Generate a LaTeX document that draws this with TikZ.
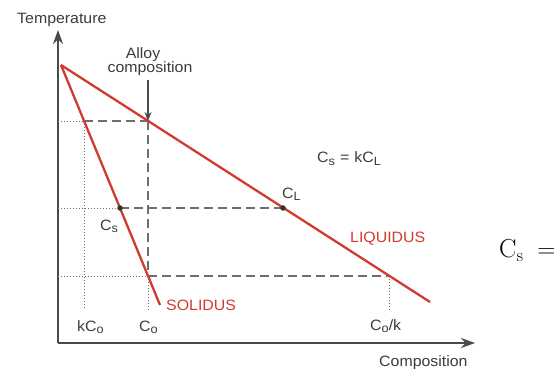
\documentclass[tikz,border=0pt]{standalone}
\usepackage{fontspec}
\newfontfamily\labfont{Liberation Sans}[FakeStretch=1.06]
\usepackage{tikz}
\usetikzlibrary{arrows.meta}
\definecolor{liqred}{HTML}{D23A2F}
\definecolor{axisgrey}{HTML}{4A4A4A}
\definecolor{guide}{HTML}{6E6E6E}
\definecolor{txt}{HTML}{3C3C3C}
\newcommand\lsub[1]{\raisebox{-0.32ex}{\fontsize{12}{12}\selectfont #1}}

\begin{document}
\begin{tikzpicture}[x=1pt, y=-1pt,
    axis/.style={draw=axisgrey, line width=2.4pt,
                 -{Stealth[length=14pt, width=10pt]}},
    phase/.style={draw=liqred, line width=2.3pt},
    tie/.style={draw=guide, line width=1.8pt, dash pattern=on 9pt off 5pt},
    hint/.style={draw=guide, line width=0.9pt, dash pattern=on 1pt off 2pt},
    lab/.style={font=\labfont\fontsize{15}{17}\selectfont, text=txt,
                inner sep=0pt, anchor=base west},
    redlab/.style={lab, text=liqred},
    pt/.style={circle, fill=black!80, inner sep=0pt, minimum size=5.5pt},
  ]
    \useasboundingbox (0,0) rectangle (558,369);

    % --- axes ---------------------------------------------------------------
    \coordinate (o)    at (58,343);
    \coordinate (ytip) at (58,30);
    \coordinate (xtip) at (475,343);
    \draw[axis] (o)--(ytip);
    \draw[axis] (o)--(xtip);
    \node[lab] (temp) at (17,24)  {Temperature};
    \node[lab] (comp) at (379,366) {Composition};

    % --- key points on the two phase lines --------------------------------
    \coordinate (melt)   at (61,65);
    \coordinate (liqend) at (430,302);
    \coordinate (solend) at (160,305);
    \coordinate (a)   at (148,121);   % liquidus at C_o
    \coordinate (kc)  at (84,121);    % solidus at first freeze
    \coordinate (cs)  at (120,208);
    \coordinate (cl)  at (283,208);
    \coordinate (b)   at (148,276);   % solidus at C_o
    \coordinate (ck)  at (389,276);   % liquidus at last freeze

    % --- guide lines (axis side dotted, tie lines dashed) ------------------
    \coordinate (ya) at (58,121);
    \coordinate (ym) at (58,208);
    \coordinate (yb) at (58,276);
    \coordinate (kcfoot) at (84,308);
    \coordinate (cofoot) at (148,310);
    \coordinate (ckfoot) at (389,310);
    \draw[hint] (ya)--(kc);  \draw[tie] (kc)--(a);
    \draw[hint] (ym)--(cs);  \draw[tie] (cs)--(cl);
    \draw[hint] (yb)--(b);   \draw[tie] (b)--(ck);
    \draw[hint] (kc)--(kcfoot);
    \draw[tie]  (a)--(b);    \draw[hint] (b)--(cofoot);
    \draw[hint] (ck)--(ckfoot);

    % --- liquidus and solidus ----------------------------------------------
    \draw[phase] (melt)--(liqend);
    \draw[phase] (melt)--(solend);
    \node[pt] (dcs) at (cs) {};
    \node[pt] (dcl) at (cl) {};

    % --- alloy composition pointer -----------------------------------------
    \node[lab, anchor=base] (alloy) at (143,59) {Alloy};
    \node[lab, anchor=base] (alloyc) at (150,73) {composition};
    \coordinate (ptop) at (148,80);
    \draw[draw=axisgrey, line width=1.6pt,
          -{Stealth[length=9pt, width=7pt]}] (ptop)--(a);

    % --- labels ---------------------------------------------------------------
    \node[lab] (rule) at (317,163)
      {C\lsub{s}\hspace{5pt}=\hspace{5pt}kC\lsub{L}};
    \node[lab] (lcl)  at (282,198) {C\lsub{L}};
    \node[lab] (lcs)  at (100,230) {C\lsub{s}};
    \node[redlab] (liq) at (350,243) {LIQUIDUS};
    \node[redlab] (sol) at (166,310) {SOLIDUS};
    \node[lab] (lkc) at (77,331)  {kC\lsub{o}};
    \node[lab] (lco) at (139,331) {C\lsub{o}};
    \node[lab] (lck) at (370,330) {C\lsub{o}/k};

    \node[inner sep=0pt, anchor=base west, font=\fontsize{26}{30}\selectfont]
      (cut) at (499,258) {$\mathrm{C_s} \;=$};
\end{tikzpicture}
\end{document}
